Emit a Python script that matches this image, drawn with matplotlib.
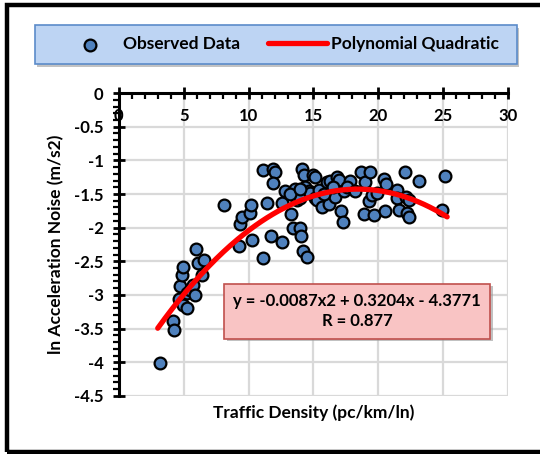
import numpy as np
import matplotlib
matplotlib.use("Agg")
import matplotlib.pyplot as plt
import matplotlib.patheffects as pe
from matplotlib.patches import Rectangle, FancyBboxPatch
from matplotlib.ticker import MultipleLocator, FuncFormatter

plt.rcParams["font.family"] = ["Lato", "DejaVu Sans"]
plt.rcParams["font.weight"] = "bold"
plt.rcParams["axes.unicode_minus"] = False

# observed points (traffic density, ln acceleration noise)
density = [
    3.17, 4.19, 4.27, 4.66, 4.71, 4.84, 4.97, 4.97, 5.23, 5.28, 5.5, 5.74,
    5.87, 5.95, 6.13, 6.56, 6.38,
    8.13, 9.29, 9.34, 9.47, 10.12, 10.17, 10.25, 11.1, 11.1, 11.4, 11.74,
    11.87, 12.05, 11.92, 12.56, 12.56, 12.82, 13.26, 13.4, 13.59, 13.7,
    13.98, 13.98, 14.05, 14.11, 14.18, 14.29, 14.36, 14.49, 14.62, 14.75,
    15.0, 15.14, 15.14, 15.27, 15.39, 15.65, 16.04, 16.16, 16.3, 16.68,
    16.81, 16.94, 17.14, 17.27, 17.32, 17.84, 18.66, 18.87, 19.0, 19.25,
    19.38, 19.51, 19.69, 19.9, 20.41, 20.54, 20.62, 21.44, 21.44, 21.57,
    22.08, 22.16, 22.2, 22.34, 22.34, 23.11, 24.92, 25.17,
    13.2, 14.0, 15.8, 16.5, 17.6, 18.2,
]
noise = [
    -4.01, -3.38, -3.52, -3.06, -2.87, -2.70, -2.58, -3.15, -2.97, -3.20, -2.92, -2.85,
    -3.00, -2.32, -2.53, -2.48, -2.70,
    -1.66, -2.27, -1.95, -1.84, -1.78, -1.66, -2.18, -1.14, -2.45, -1.64, -2.12,
    -1.13, -1.18, -1.34, -1.64, -2.21, -1.45, -1.79, -2.01, -1.43, -1.59,
    -2.01, -1.56, -2.12, -1.13, -2.34, -1.22, -1.39, -2.43, -1.46, -1.49,
    -1.22, -1.24, -1.56, -1.59, -1.44, -1.70, -1.32, -1.65, -1.30, -1.54,
    -1.24, -1.29, -1.75, -1.92, -1.46, -1.30, -1.17, -1.79, -1.32, -1.61,
    -1.18, -1.51, -1.81, -1.49, -1.27, -1.75, -1.35, -1.44, -1.56, -1.74,
    -1.17, -1.54, -1.78, -1.59, -1.84, -1.31, -1.74, -1.23,
    -1.50, -1.42, -1.50, -1.40, -1.40, -1.45,
]

# quadratic trend from the chart label
coef = [-0.0087, 0.3204, -4.3771]
fit_range = (3.0, 25.3)
r_value = 0.877

fig = plt.figure(figsize=(5.4, 4.54), dpi=100)
fig.patch.set_facecolor("white")
ax = fig.add_axes([0.220, 0.128, 0.721, 0.667])

ax.set_xlim(0, 30)
ax.set_ylim(-4.5, 0)
ax.xaxis.set_major_locator(MultipleLocator(5))
ax.xaxis.set_minor_locator(MultipleLocator(1))
ax.yaxis.set_major_locator(MultipleLocator(0.5))
ax.yaxis.set_minor_locator(MultipleLocator(0.1))
ax.yaxis.set_major_formatter(FuncFormatter(lambda v, _: f"{v:g}"))
ax.grid(True, which="major", color="#D9D9D9", lw=1.6)
ax.set_axisbelow(True)

for side in ("bottom", "right"):
    ax.spines[side].set_visible(False)
ax.spines["top"].set_linewidth(2.2)
ax.spines["left"].set_linewidth(2.2)

ax.xaxis.set_ticks_position("top")
ax.tick_params(axis="x", which="major", direction="inout", length=8, width=2,
               labeltop=True, labelbottom=False, pad=-26, labelsize=12)
ax.tick_params(axis="x", which="minor", direction="in", length=4, width=1.6)
ax.tick_params(axis="y", which="major", direction="inout", length=8, width=2,
               labelsize=12, pad=7)
ax.tick_params(axis="y", which="minor", direction="out", length=4, width=1.6)
for lab in ax.get_xticklabels() + ax.get_yticklabels():
    lab.set_fontweight("bold")

xs = np.linspace(fit_range[0], fit_range[1], 200)
ys = np.polyval(coef, xs)
ax.scatter(density, noise, s=72, color="#4F81BD", edgecolors="black",
           linewidths=1.6, zorder=3, label="Observed Data")
ax.plot(xs, ys, color="#FF0000", lw=3.8, solid_capstyle="round", zorder=4,
        label="Polynomial Quadratic")

ax.set_xlabel("Traffic Density (pc/km/ln)", fontsize=12.5, fontweight="bold",
              labelpad=6)
ax.xaxis.set_label_position("bottom")
ax.set_ylabel("ln Acceleration Noise (m/s2)", fontsize=12.5, fontweight="bold",
              labelpad=7)

eq = f"y = {coef[0]:.4f}x2 + {coef[1]:.4f}x - {abs(coef[2]):.4f}\nR = {r_value}"
t = ax.text(0.612, 0.28, eq, transform=ax.transAxes, ha="center", va="center",
            fontsize=12, fontweight="bold", linespacing=1.35, zorder=6,
            bbox=dict(boxstyle="square,pad=0.55", facecolor="#F9C4C4",
                      edgecolor="#C0504D", lw=1.2))
t.get_bbox_patch().set_path_effects([
    pe.SimplePatchShadow(offset=(2, -2), shadow_rgbFace="#999999", alpha=0.6),
    pe.Normal()])

# legend panel across the top: shaded box drawn behind a frameless legend
shadow = FancyBboxPatch((0.069, 0.852), 0.892, 0.087, boxstyle="square,pad=0",
                        transform=fig.transFigure, facecolor="#9A9A9A",
                        edgecolor="none", alpha=0.6, zorder=1)
panel = FancyBboxPatch((0.065, 0.859), 0.892, 0.087, boxstyle="square,pad=0",
                       transform=fig.transFigure, facecolor="#BDD4F3",
                       edgecolor="#5B8BC9", lw=1.2, zorder=2)
fig.patches.extend([shadow, panel])
leg = fig.legend(loc="center", bbox_to_anchor=(0.518, 0.902), ncol=2,
                 frameon=False, handlelength=3.4, handletextpad=0.2,
                 columnspacing=1.6, prop={"weight": "bold", "size": 12.5})
leg.set_zorder(5)

# outer chart frame
fig.patches.append(Rectangle((0.013, 0.004), 1.2, 0.984, transform=fig.transFigure,
                             fill=False, edgecolor="black", lw=3.2, zorder=0))

fig.savefig("out.png", dpi=100)
